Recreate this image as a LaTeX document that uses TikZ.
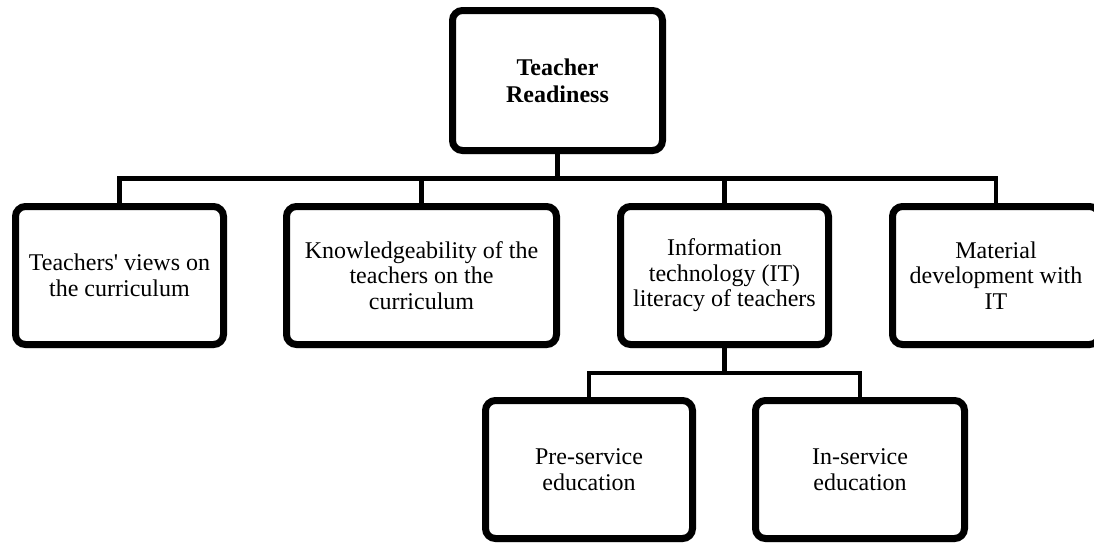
\documentclass[tikz,border=0pt]{standalone}
\usepackage{fontspec}
\setmainfont{Liberation Serif}
\usetikzlibrary{shadows}
\begin{document}
\begin{tikzpicture}[x=1pt,y=-1pt,
  box/.style={draw=black, line width=7pt, rounded corners=10pt, fill=white,
    align=center, inner sep=0pt, minimum height=138pt,
    font=\fontsize{24}{25.5}\selectfont,
    drop shadow={shadow xshift=1pt, shadow yshift=-3.5pt, opacity=0.22, fill=black}},
  link/.style={draw=black, line width=4.5pt}]
\useasboundingbox (0,0) rectangle (1094,542);
\clip (0,0) rectangle (1094,542);
\fill[white] (0,0) rectangle (1094,542);

\coordinate (bus) at (0,178.5);
\coordinate (subbus) at (0,373);

\node[box, minimum width=210pt, minimum height=140pt, font=\bfseries\fontsize{24}{27}\selectfont] (top) at (557.5,80.5) {Teacher\\Readiness};
\node[box, minimum width=208pt] (b1) at (119.5,275.5) {Teachers\textquotesingle{} views on\\the curriculum};
\node[box, minimum width=270pt] (b2) at (421.5,275.5) {Knowledgeability of the\\teachers on the\\curriculum};
\node[box, minimum width=208pt] (b3) at (724.5,275.5) {Information\\technology (IT)\\literacy of teachers};
\node[box, minimum width=207pt] (b4) at (996,275.5) {Material\\development with\\IT};
\node[box, minimum width=207pt] (b5) at (589,469.5) {Pre-service\\education};
\node[box, minimum width=209pt] (b6) at (860,469.5) {In-service\\education};

% connectors
\foreach \c in {b1,b2,b3,b4}
  \draw[link] (top.south) -- (top.south |- bus) -| (\c.north);
\foreach \c in {b5,b6}
  \draw[link] (b3.south) -- (b3.south |- subbus) -| (\c.north);
\end{tikzpicture}
\end{document}
